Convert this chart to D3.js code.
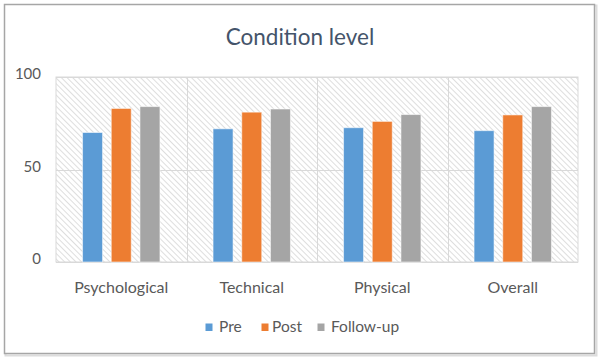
<!DOCTYPE html>
<html>
<head>
<meta charset="utf-8">
<script src="https://cdn.jsdelivr.net/npm/d3@7"></script>
<style>
  html, body { margin: 0; padding: 0; background: #ffffff; }
  svg { display: block; }
  text { font-family: Lato, "Open Sans", sans-serif; }
</style>
</head>
<body>
<svg id="chart" width="600" height="360"></svg>
<script>
const categories = ["Psychological", "Technical", "Physical", "Overall"];
const seriesNames = ["Pre", "Post", "Follow-up"];
const preValues = [70, 72, 72.6, 71];
const postValues = [83, 81, 76, 79.5];
const followValues = [84, 82.7, 79.7, 84];
const yTicks = [0, 50, 100];
const colors = ["#5B9BD5", "#ED7D31", "#A5A5A5"];
const titleText = "Condition level";

const series = [preValues, postValues, followValues];

const svg = d3.select("#chart");

// outer frame with faint shadow
svg.append("rect").attr("x", 5.5).attr("y", 5.5).attr("width", 591).attr("height", 350)
  .attr("fill", "none").attr("stroke", "#dcdcdc").attr("stroke-width", 2);
svg.append("rect").attr("x", 4.5).attr("y", 4.5).attr("width", 590).attr("height", 349)
  .attr("fill", "#ffffff").attr("stroke", "#a6a6a6").attr("stroke-width", 1.5);

// hatch pattern
const defs = svg.append("defs");
const pat = defs.append("pattern").attr("id", "hatch")
  .attr("patternUnits", "userSpaceOnUse").attr("width", 4).attr("height", 4)
  .attr("patternTransform", "rotate(-45)");
pat.append("rect").attr("width", 4).attr("height", 4).attr("fill", "#ffffff");
pat.append("line").attr("x1", 0).attr("y1", 0).attr("x2", 0).attr("y2", 4)
  .attr("stroke", "#d4d4d4").attr("stroke-width", 1.5);

const plot = { left: 56, right: 578, top: 77, bottom: 262 };

const x = d3.scaleBand().domain(categories).range([plot.left, plot.right]).padding(0);
const y = d3.scaleLinear().domain([0, 100]).range([plot.bottom, plot.top]);

// plot background
svg.append("rect").attr("x", plot.left).attr("y", plot.top)
  .attr("width", plot.right - plot.left).attr("height", plot.bottom - plot.top)
  .attr("fill", "url(#hatch)").attr("stroke", "#d9d9d9").attr("stroke-width", 1);

// horizontal grid
svg.append("g").selectAll("line").data(yTicks).join("line")
  .attr("x1", plot.left).attr("x2", plot.right)
  .attr("y1", d => Math.round(y(d)) + 0.5).attr("y2", d => Math.round(y(d)) + 0.5)
  .attr("stroke", "#d9d9d9").attr("stroke-width", 1);

// vertical category dividers
svg.append("g").selectAll("line").data(categories.slice(1)).join("line")
  .attr("x1", d => Math.round(x(d)) + 0.5).attr("x2", d => Math.round(x(d)) + 0.5)
  .attr("y1", plot.top).attr("y2", plot.bottom)
  .attr("stroke", "#d9d9d9").attr("stroke-width", 1);

// y axis labels
const yAxis = d3.axisLeft(y).tickValues(yTicks).tickSize(0).tickPadding(0);
const yg = svg.append("g").attr("transform", `translate(41,0)`).call(yAxis);
yg.select(".domain").remove();
yg.selectAll("text").attr("fill", "#595959").attr("font-size", 15).attr("text-anchor", "end")
  .attr("dy", "0.1em");

// bars
const barW = 20, gap = 8.7;
const inner = d3.scaleBand().domain(seriesNames).range([0, 3 * barW + 2 * gap]).paddingInner(gap / (barW + gap)).paddingOuter(0);
categories.forEach((cat, ci) => {
  const groupW = 3 * barW + 2 * gap;
  const x0 = x(cat) + x.bandwidth() / 2 - groupW / 2;
  series.forEach((vals, si) => {
    svg.append("rect")
      .attr("x", x0 + inner(seriesNames[si]))
      .attr("y", y(vals[ci]))
      .attr("width", inner.bandwidth())
      .attr("height", y(0) - y(vals[ci]))
      .attr("fill", colors[si])
      .attr("stroke", "#ffffff").attr("stroke-opacity", 0.55).attr("stroke-width", 1);
  });
});

// x axis labels
const xAxis = d3.axisBottom(x).tickSize(0).tickPadding(0);
const xg = svg.append("g").attr("transform", `translate(0,282)`).call(xAxis);
xg.select(".domain").remove();
xg.selectAll("text").attr("fill", "#595959").attr("font-size", 16);

// title
svg.append("text").attr("x", 300).attr("y", 45).attr("text-anchor", "middle")
  .attr("font-size", 22.5).attr("fill", "#44546A").text(titleText);

// legend
const legendItems = [
  { name: seriesNames[0], sx: 205.5, tx: 219 },
  { name: seriesNames[1], sx: 261.5, tx: 272 },
  { name: seriesNames[2], sx: 317.5, tx: 331 }
];
legendItems.forEach((d, i) => {
  svg.append("rect").attr("x", d.sx).attr("y", 323.5).attr("width", 7).attr("height", 7.5)
    .attr("fill", colors[i]);
  svg.append("text").attr("x", d.tx).attr("y", 332).attr("font-size", 15.5)
    .attr("fill", "#595959").text(d.name);
});
</script>
</body>
</html>
